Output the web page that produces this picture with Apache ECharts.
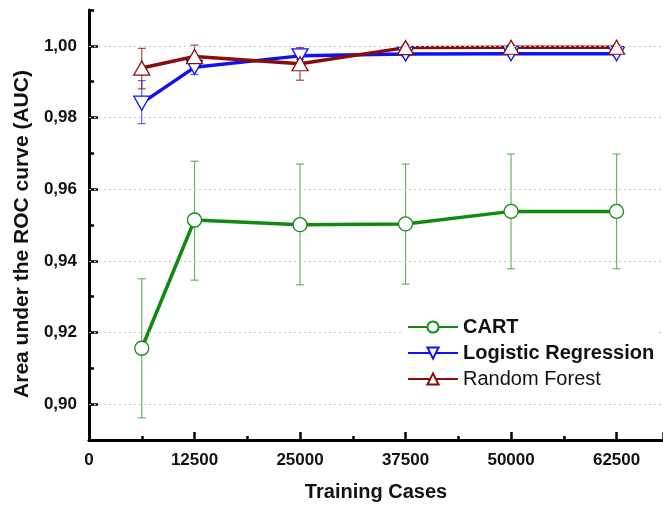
<!DOCTYPE html>
<html>
<head>
<meta charset="utf-8">
<script src="https://cdn.jsdelivr.net/npm/echarts@6/dist/echarts.min.js"></script>
<style>
  html, body { margin: 0; padding: 0; background: #fff; }
  #main { width: 663px; height: 507px; }
</style>
</head>
<body>
<div id="main"></div>
<script>
// training set sizes
var trainingCases = [6250, 12500, 25000, 37500, 50000, 62500];

// mean AUC + error (low / high) per model
var cartAuc = [0.9156, 0.9514, 0.9501, 0.9503, 0.9538, 0.9538];
var cartLow = [0.8962, 0.9346, 0.9333, 0.9335, 0.9378, 0.9378];
var cartHigh = [0.9350, 0.9678, 0.9670, 0.9670, 0.9698, 0.9698];

var lrAuc = [0.9840, 0.9940, 0.9972, 0.9977, 0.9978, 0.9978];
var lrLow = [0.9783, 0.9920, 0.9962, 0.9970, 0.9972, 0.9972];
var lrHigh = [0.9903, 0.9960, 0.9982, 0.9984, 0.9984, 0.9984];

var rfAuc = [0.9938, 0.9970, 0.9950, 0.9995, 0.9996, 0.9996];
var rfLow = [0.9880, 0.9950, 0.9904, 0.9988, 0.9990, 0.9990];
var rfHigh = [0.9993, 1.0002, 0.9995, 1.0002, 1.0002, 1.0002];

var yTicks = [0.90, 0.92, 0.94, 0.96, 0.98, 1.00];

var chart = echarts.init(document.getElementById('main'));

var FONT = '"Liberation Sans", Arial, sans-serif';
var GREEN = '#128a12', BLUE = '#1010f5', RED = '#8a0c0c';

function pairs(vals) {
    return trainingCases.map(function (x, i) { return [x, vals[i]]; });
}
function errData(lo, hi) {
    return trainingCases.map(function (x, i) { return [x, lo[i], hi[i]]; });
}
// error bars drawn through the axis scale
function errSeries(lo, hi, color, opacity) {
    return {
        type: 'custom',
        data: errData(lo, hi),
        z: 1,
        silent: true,
        renderItem: function (params, api) {
            var top = api.coord([api.value(0), api.value(2)]);
            var bot = api.coord([api.value(0), api.value(1)]);
            var w = 4;
            var st = { stroke: color, lineWidth: 1.2, opacity: opacity };
            return {
                type: 'group',
                children: [
                    { type: 'line', shape: { x1: top[0], y1: top[1], x2: bot[0], y2: bot[1] }, style: st },
                    { type: 'line', shape: { x1: top[0] - w, y1: top[1], x2: top[0] + w, y2: top[1] }, style: st },
                    { type: 'line', shape: { x1: bot[0] - w, y1: bot[1], x2: bot[0] + w, y2: bot[1] }, style: st }
                ]
            };
        }
    };
}
function lineSeries(name, vals, color, symbol, size, rotate) {
    return {
        name: name,
        type: 'line',
        data: pairs(vals),
        z: 3,
        symbol: symbol,
        symbolSize: size,
        symbolRotate: rotate,
        showAllSymbol: true,
        lineStyle: { color: color, width: 3.5 },
        itemStyle: { color: '#fff', borderColor: color, borderWidth: 1.3 },
        emphasis: { disabled: true }
    };
}

var option = {
    backgroundColor: '#fff',
    animation: false,
    grid: { left: 89, top: 10, right: 0, bottom: 64, containLabel: false },
    legend: {
        orient: 'vertical',
        left: 402,
        top: 312,
        z: 20,
        zlevel: 1,
        backgroundColor: '#fff',
        itemWidth: 50,
        itemHeight: 14,
        itemGap: 6,
        textStyle: { fontFamily: FONT, fontSize: 20, color: '#111' },
        data: [
            { name: 'CART', textStyle: { fontWeight: 'bold' } },
            { name: 'Logistic Regression', textStyle: { fontWeight: 'bold' } },
            { name: 'Random Forest' }
        ]
    },
    xAxis: {
        type: 'value',
        min: 0,
        max: 68000,
        interval: 12500,
        name: 'Training Cases',
        nameLocation: 'middle',
        nameGap: 42,
        nameTextStyle: { fontFamily: FONT, fontSize: 20, fontWeight: 'bold', color: '#111' },
        axisLine: { lineStyle: { color: '#000', width: 3 } },
        axisTick: { inside: true, length: 8, lineStyle: { color: '#000', width: 2.5 } },
        minorTick: { show: true, splitNumber: 2, length: 4, lineStyle: { color: '#000', width: 2.5 } },
        axisLabel: {
            showMaxLabel: false,
            margin: 12,
            fontFamily: FONT, fontSize: 17, fontWeight: 'bold', color: '#111',
            formatter: function (v) { return String(v); }
        },
        splitLine: { show: false }
    },
    yAxis: [{
        type: 'value',
        min: 0.89,
        max: 1.01,
        name: 'Area under the ROC curve (AUC)',
        nameLocation: 'middle',
        nameGap: 55,
        nameTextStyle: { fontFamily: FONT, fontSize: 21, fontWeight: 'bold', color: '#111', padding: [0, 18, 0, 0] },
        axisLine: { show: true, lineStyle: { color: '#000', width: 3 } },
        axisTick: { show: true, inside: true, length: 9, customValues: yTicks, lineStyle: { color: '#000', width: 2.5 } },
        axisLabel: {
            customValues: yTicks,
            margin: 12,
            fontFamily: FONT, fontSize: 17, fontWeight: 'bold', color: '#111',
            formatter: function (v) { return v.toFixed(2).replace('.', ','); }
        },
        splitLine: { show: false }
    }, {
        // minor ticks every 0.01
        type: 'value',
        position: 'left',
        offset: 0,
        min: 0.89,
        max: 1.01,
        interval: 0.01,
        axisLine: { show: false },
        axisTick: { show: true, inside: true, length: 5, lineStyle: { color: '#000', width: 2.5 } },
        axisLabel: { show: false },
        splitLine: { show: false }
    }],
    series: [
        {
            // dotted grid lines at the labelled values
            type: 'line',
            data: [],
            silent: true,
            markLine: {
                silent: true,
                symbol: 'none',
                label: { show: false },
                lineStyle: { color: '#c8c8c8', type: [2, 3], width: 1 },
                data: yTicks.map(function (v) { return { yAxis: v }; })
            }
        },
        errSeries(cartLow, cartHigh, '#4e9e4e', 0.8),
        errSeries(lrLow, lrHigh, '#3a3af0', 0.8),
        errSeries(rfLow, rfHigh, '#8a2020', 0.8),
        lineSeries('CART', cartAuc, GREEN, 'circle', 14, 0),
        lineSeries('Logistic Regression', lrAuc, BLUE, 'triangle', [16, 14], 180),
        lineSeries('Random Forest', rfAuc, RED, 'triangle', [16, 14], 0)
    ]
};

chart.setOption(option);
</script>
</body>
</html>
